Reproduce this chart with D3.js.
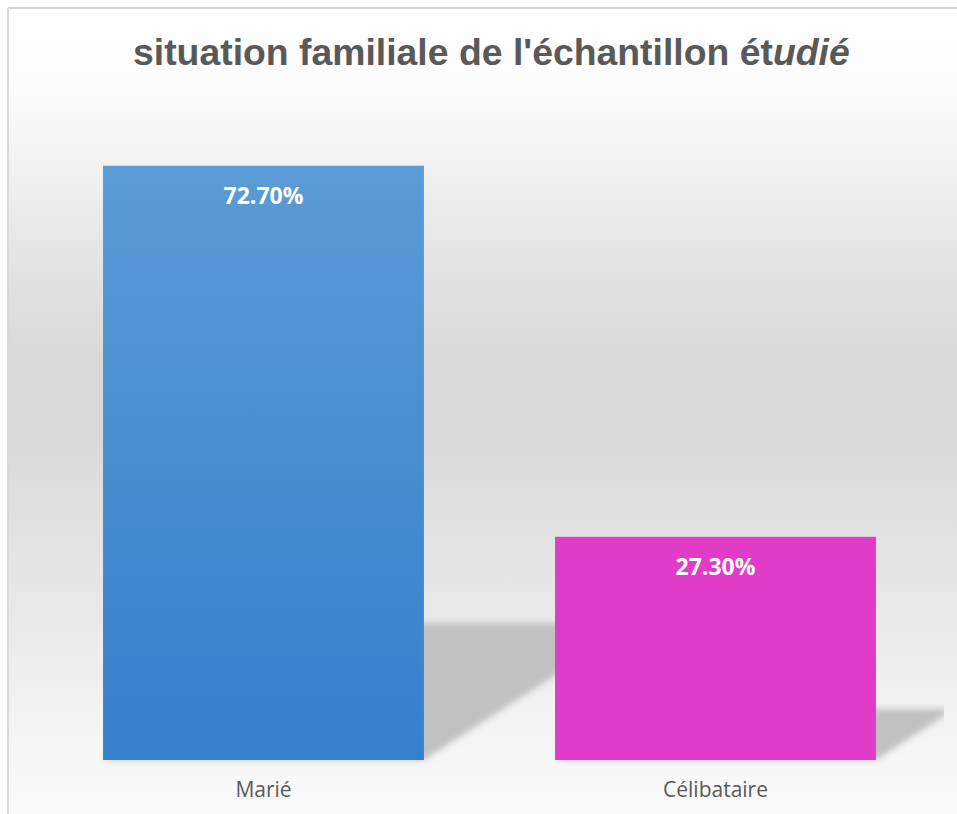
<!DOCTYPE html>
<html><head><meta charset="utf-8">
<script src="https://cdn.jsdelivr.net/npm/d3@7"></script>
<style>body{margin:0;background:#fff;overflow:hidden}</style>
</head><body><svg id="c" width="957" height="814"></svg>
<script>
const categories = ["Marié", "Célibataire"];
const values = [72.7, 27.3];
const valueLabels = ["72.70%", "27.30%"];
const titleMain = "situation familiale de l'échantillon ét";
const titleItalic = "udié";

const W = 957, H = 814;
const svg = d3.select("#c");
const defs = svg.append("defs");

// background gradient
const bg = defs.append("linearGradient").attr("id","bg")
  .attr("gradientUnits","userSpaceOnUse").attr("x1",0).attr("x2",0).attr("y1",9).attr("y2",814);
[[9,"#ffffff"],[100,"#fbfbfb"],[150,"#f4f4f4"],[250,"#e5e5e5"],[360,"#d9d9d9"],[440,"#d9d9d9"],
 [520,"#e1e1e1"],[620,"#e9e9e9"],[700,"#f1f1f1"],[814,"#fbfbfb"]].forEach(([y,c])=>{
  bg.append("stop").attr("offset",((y-9)/805)).attr("stop-color",c);
});
const bar0 = defs.append("linearGradient").attr("id","bar0")
  .attr("x1",0).attr("x2",0).attr("y1",0).attr("y2",1);
bar0.append("stop").attr("offset",0).attr("stop-color","#5b9bd6");
bar0.append("stop").attr("offset",1).attr("stop-color","#3481cb");
const blur = defs.append("filter").attr("id","blur").attr("x","-20%").attr("y","-20%").attr("width","140%").attr("height","140%");
blur.append("feGaussianBlur").attr("stdDeviation",3);
defs.append("clipPath").attr("id","plotclip").append("rect")
  .attr("x",9).attr("y",9).attr("width",935).attr("height",800);

// panel
svg.append("rect").attr("x",9).attr("y",9).attr("width",W-9).attr("height",H-9).attr("fill","url(#bg)");
svg.append("line").attr("x1",8).attr("x2",W).attr("y1",8).attr("y2",8).attr("stroke","#d9d9d9").attr("stroke-width",2);
svg.append("line").attr("x1",8).attr("x2",8).attr("y1",8).attr("y2",H).attr("stroke","#d9d9d9").attr("stroke-width",2);

const x = d3.scaleBand().domain(categories).range([37.5, 941.5]).paddingInner(0.29).paddingOuter(0.145);
const y = d3.scaleLinear().domain([0, 80]).range([760, 106]);

const data = categories.map((c,i)=>({c, v: values[i], label: valueLabels[i], i}));

// shadows
const sg = svg.append("g").attr("clip-path","url(#plotclip)");
sg.selectAll("path").data(data).join("path")
  .attr("fill","#c1c1c1")
  .attr("filter","url(#blur)")
  .attr("d", d => {
    const x0 = x(d.c), x1 = x0 + x.bandwidth();
    const yb = y(0), h = yb - y(d.v);
    const s = 0.23 * h, dx = 1.55 * s;
    return `M${x0},${yb}L${x1},${yb}L${x1+dx},${yb-s}L${x0+dx},${yb-s}Z`;
  });

// bars
svg.selectAll("rect.bar").data(data).join("rect").attr("class","bar")
  .attr("x", d => x(d.c)).attr("width", x.bandwidth())
  .attr("y", d => y(d.v)).attr("height", d => y(0) - y(d.v))
  .attr("fill", d => d.i === 0 ? "url(#bar0)" : "#e13cc8");

// value labels
svg.selectAll("text.val").data(data).join("text").attr("class","val")
  .attr("x", d => x(d.c) + x.bandwidth()/2)
  .attr("y", d => y(d.v) + 38)
  .attr("text-anchor","middle")
  .attr("font-family","'Open Sans', sans-serif").attr("font-weight","bold")
  .attr("font-size",23).attr("fill","#ffffff")
  .text(d => d.label);

// category axis labels
const xAxis = d3.axisBottom(x).tickSize(0).tickPadding(0);
const ax = svg.append("g").attr("transform","translate(0,760)").call(xAxis);
ax.select(".domain").remove();
ax.selectAll("text").attr("dy",null).attr("y",37)
  .attr("font-family","'Open Sans', sans-serif").attr("font-size",21).attr("fill","#595959");

// title
const title = svg.append("text")
  .attr("font-family","'Liberation Sans', Arial, sans-serif").attr("font-weight","bold")
  .attr("font-size",37).attr("fill","#595959");
title.append("tspan").text(titleMain);
title.append("tspan").attr("font-style","italic").text(titleItalic);
const tw = title.node().getComputedTextLength();
const sx = 717 / tw;
title.attr("transform", `translate(491.5,65) scale(${sx},1) translate(${-tw/2},0)`);
</script>
</body></html>
